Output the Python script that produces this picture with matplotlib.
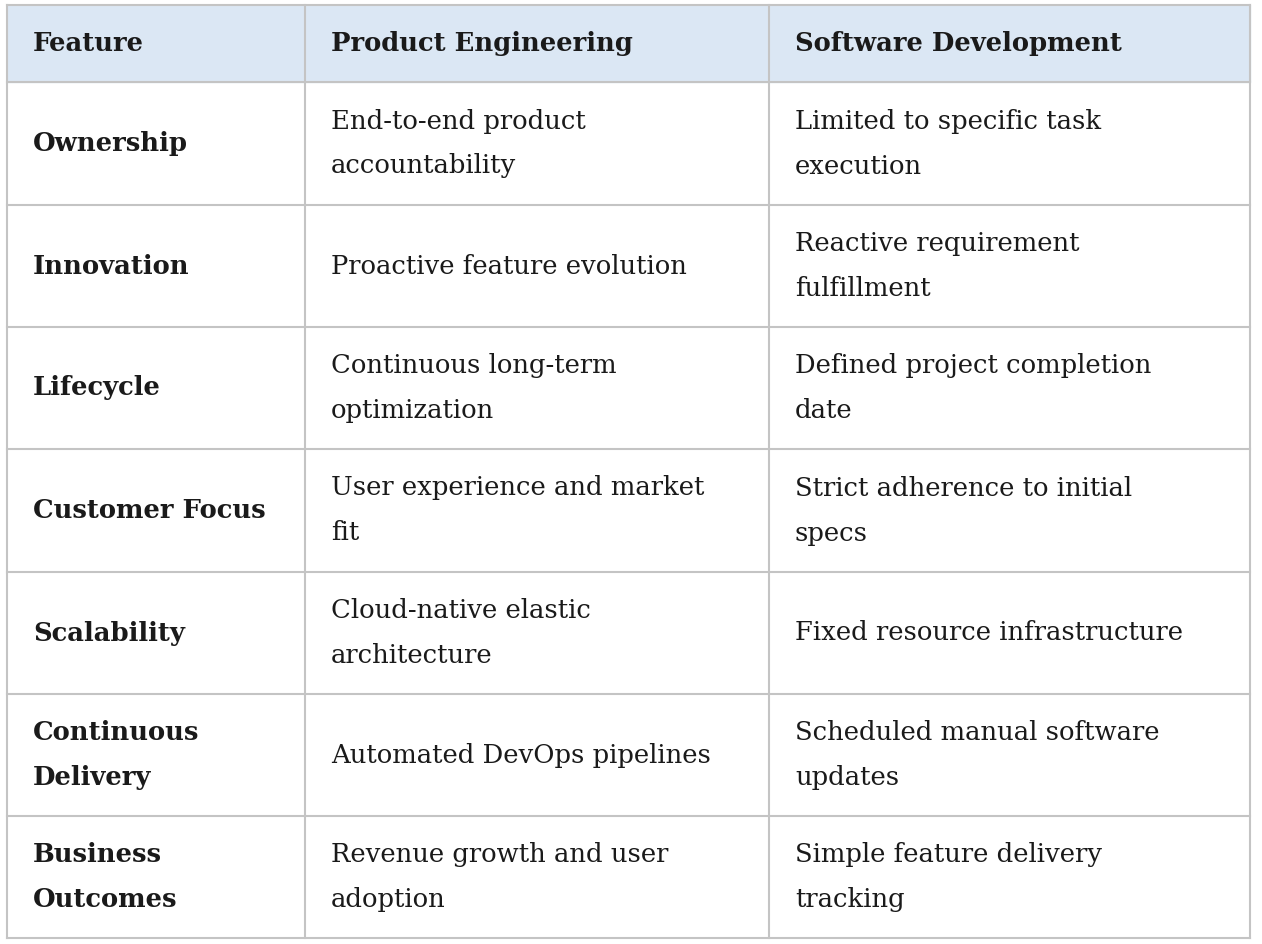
import matplotlib.pyplot as plt

headers = ["Feature", "Product Engineering", "Software Development"]
features = ["Ownership", "Innovation", "Lifecycle", "Customer Focus", "Scalability",
            "Continuous\nDelivery", "Business\nOutcomes"]
product_eng = ["End-to-end product\naccountability", "Proactive feature evolution",
               "Continuous long-term\noptimization", "User experience and market\nfit",
               "Cloud-native elastic\narchitecture", "Automated DevOps pipelines",
               "Revenue growth and user\nadoption"]
software_dev = ["Limited to specific task\nexecution", "Reactive requirement\nfulfillment",
                "Defined project completion\ndate", "Strict adherence to initial\nspecs",
                "Fixed resource infrastructure", "Scheduled manual software\nupdates",
                "Simple feature delivery\ntracking"]

W, H = 1262, 944
col_x = [7, 305, 769, 1250]
row_y = [5, 82, 205, 327, 449, 572, 694, 816, 938]
pad = 26
line_color = "#c4c4c4"
fs = 18.6

fig = plt.figure(figsize=(W / 100, H / 100), dpi=100)
ax = fig.add_axes([0, 0, 1, 1])
ax.set_xlim(0, W)
ax.set_ylim(H, 0)
ax.axis("off")

ax.fill_between([col_x[0], col_x[-1]], row_y[0], row_y[1], color="#dbe7f4", zorder=0)
for y in row_y:
    ax.plot([col_x[0], col_x[-1]], [y, y], color=line_color, lw=1.5)
for x in col_x:
    ax.plot([x, x], [row_y[0], row_y[-1]], color=line_color, lw=1.5)

font = "DejaVu Serif"
for j, h in enumerate(headers):
    ax.text(col_x[j] + pad, (row_y[0] + row_y[1]) / 2, h, fontsize=fs, fontweight="bold",
            family=font, va="center", ha="left", color="#1a1a1a")

for i in range(len(features)):
    yc = (row_y[i + 1] + row_y[i + 2]) / 2
    cells = [features[i], product_eng[i], software_dev[i]]
    for j, txt in enumerate(cells):
        ax.text(col_x[j] + pad, yc, txt, fontsize=fs, family=font,
                fontweight="bold" if j == 0 else "normal",
                va="center", ha="left", linespacing=2.0, color="#1a1a1a")

fig.savefig("out.png", dpi=100)
